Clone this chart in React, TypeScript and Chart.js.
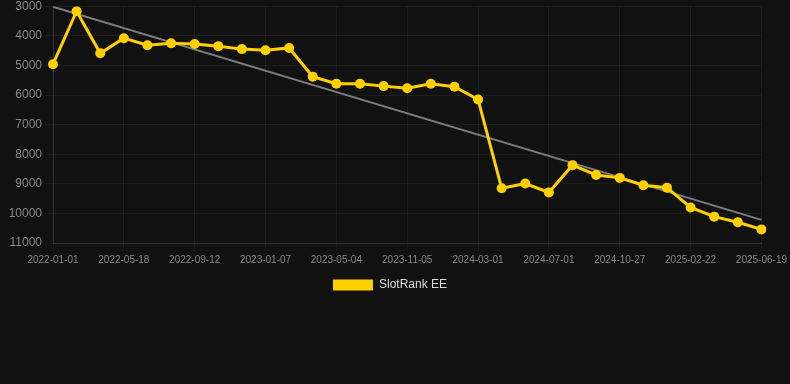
import React, { useEffect, useRef } from "react";
import { Chart, registerables } from "chart.js";

Chart.register(...registerables);

const dates = [
  "2022-01-01", "2022-02-15", "2022-04-01", "2022-05-18", "2022-07-02", "2022-08-01",
  "2022-09-12", "2022-10-27", "2022-11-23", "2023-01-07", "2023-02-14", "2023-03-26",
  "2023-05-04", "2023-07-10", "2023-09-07", "2023-11-05", "2023-12-20", "2024-01-28",
  "2024-03-01", "2024-04-15", "2024-05-20", "2024-07-01", "2024-08-10", "2024-09-18",
  "2024-10-27", "2024-12-05", "2025-01-14", "2025-02-22", "2025-04-01", "2025-05-10",
  "2025-06-19",
];

const rankValues = [
  4960, 3170, 4590, 4080, 4320, 4250, 4280, 4350, 4450, 4490, 4410, 5380,
  5620, 5620, 5700, 5770, 5620, 5720, 6150, 9150, 8990, 9290, 8370, 8700,
  8800, 9050, 9130, 9800, 10110, 10300, 10540,
];

const trendStart = 3020;
const trendEnd = 10220;

const seriesName = "SlotRank EE";
const yMin = 3000;
const yMax = 11000;
const yStep = 1000;
const labelEvery = 3;

const GOLD = "#FFD000";
const GRID = "rgba(255,255,255,0.05)";

export default function App() {
  const ref = useRef<HTMLCanvasElement | null>(null);

  useEffect(() => {
    document.body.style.margin = "0";
    document.body.style.background = "#111111";
    if (!ref.current) return;
    const chart = new Chart(ref.current, {
      type: "line",
      data: {
        labels: dates,
        datasets: [
          {
            label: seriesName,
            data: rankValues,
            borderColor: GOLD,
            backgroundColor: GOLD,
            borderWidth: 3,
            pointRadius: 5,
            pointBorderWidth: 0,
            pointHoverRadius: 5,
            pointBackgroundColor: GOLD,
            pointBorderColor: GOLD,
            tension: 0,
            order: 1,
          },
          {
            label: "trend",
            data: [
              { x: dates[0], y: trendStart },
              { x: dates[dates.length - 1], y: trendEnd },
            ] as any,
            borderColor: "rgba(125,125,125,1)",
            backgroundColor: "rgba(125,125,125,1)",
            borderWidth: 2,
            pointRadius: 0,
            tension: 0,
            order: 2,
          },
        ],
      },
      options: {
        animation: false,
        responsive: false,
        maintainAspectRatio: false,
        layout: { padding: { top: 0, left: 0, right: 10, bottom: 0 } },
        scales: {
          x: {
            type: "category",
            grid: {
              color: (ctx: any) => (ctx.index % labelEvery === 0 ? GRID : "rgba(0,0,0,0)"),
            },
            border: { color: "rgba(255,255,255,0.1)" },
            ticks: {
              color: "#888888",
              font: { size: 10, family: "Arial, Liberation Sans, sans-serif" },
              autoSkip: false,
              maxRotation: 0,
              callback: (_v: any, i: number) => (i % labelEvery === 0 ? dates[i] : ""),
            },
          },
          y: {
            reverse: true,
            min: yMin,
            max: yMax,
            afterFit: (scale: any) => {
              scale.width = 53;
            },
            grid: { color: GRID },
            border: { color: "rgba(255,255,255,0.1)" },
            ticks: {
              stepSize: yStep,
              color: "#888888",
              font: { size: 12, family: "Arial, Liberation Sans, sans-serif" },
              callback: (v: any) => String(v),
            },
          },
        },
        plugins: {
          legend: {
            position: "bottom",
            labels: {
              color: "#dddddd",
              font: { size: 12, family: "Arial, Liberation Sans, sans-serif" },
              boxWidth: 40,
              boxHeight: 11,
              generateLabels: () => [
                {
                  text: seriesName,
                  fillStyle: GOLD,
                  strokeStyle: GOLD,
                  lineWidth: 0,
                  hidden: false,
                  datasetIndex: 0,
                  fontColor: "#dddddd",
                },
              ],
            },
          },
          tooltip: { enabled: false },
        },
      },
    });
    return () => chart.destroy();
  }, []);

  return (
    <div style={{ width: 790, height: 384, background: "#111111", overflow: "hidden" }}>
      <canvas ref={ref} width={790} height={305} style={{ display: "block", marginTop: -4 }} />
    </div>
  );
}
